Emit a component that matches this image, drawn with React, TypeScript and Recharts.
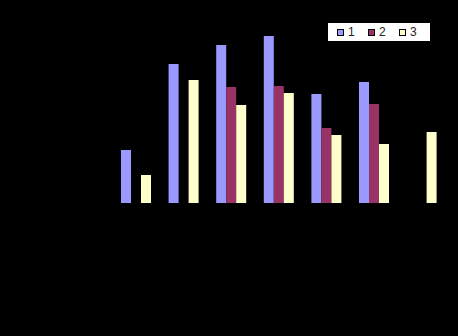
import { Bar, BarChart, Legend, XAxis, YAxis } from "recharts"

const categories = ["A", "B", "C", "D", "E", "F", "G"]
const series1 = [53, 139, 158, 167, 109, 121, 0]
const series2 = [0, 0, 116, 117, 75, 99, 0]
const series3 = [28, 123, 98, 110, 68, 59, 71]
const seriesNames = ["1", "2", "3"]
const seriesColors = ["#9999FF", "#993366", "#FFFFCC"]

const data = categories.map((name, i) => ({
    name,
    s1: series1[i],
    s2: series2[i],
    s3: series3[i],
}))

function ChartLegend() {
    return (
        <div
            style={{
                background: "#fff",
                width: 102,
                height: 18,
                display: "flex",
                alignItems: "center",
                fontFamily: "'Liberation Sans', Arial, sans-serif",
                fontSize: 12,
                color: "#222",
                boxSizing: "border-box",
                paddingLeft: 9,
            }}
        >
            {seriesNames.map((n, i) => (
                <div key={n} style={{ display: "flex", alignItems: "center", width: 33 }}>
                    <span
                        style={{
                            display: "inline-block",
                            width: 5,
                            height: 5,
                            background: seriesColors[i],
                            border: "1px solid #000",
                            marginRight: 4,
                        }}
                    />
                    <span>{n}</span>
                </div>
            ))}
        </div>
    )
}

export default function App() {
    return (
        <div style={{ position: "fixed", left: 0, top: 0, width: 458, height: 336, background: "#000" }}>
            <BarChart
                width={458}
                height={336}
                data={data}
                // the legend's 18px is taken off the bottom by recharts, so the margin is smaller
                margin={{ top: 20, right: 12.6, left: 112.2, bottom: 115 }}
                barCategoryGap={8.8}
                barGap={0}
            >
                <XAxis dataKey="name" hide />
                <YAxis hide domain={[0, 183]} />
                <Legend
                    content={() => <ChartLegend />}
                    wrapperStyle={{ position: "absolute", left: 328, top: 23, width: 102, height: 18 }}
                />
                <Bar dataKey="s1" fill={seriesColors[0]} isAnimationActive={false} />
                <Bar dataKey="s2" fill={seriesColors[1]} isAnimationActive={false} />
                <Bar dataKey="s3" fill={seriesColors[2]} isAnimationActive={false} />
            </BarChart>
        </div>
    )
}
